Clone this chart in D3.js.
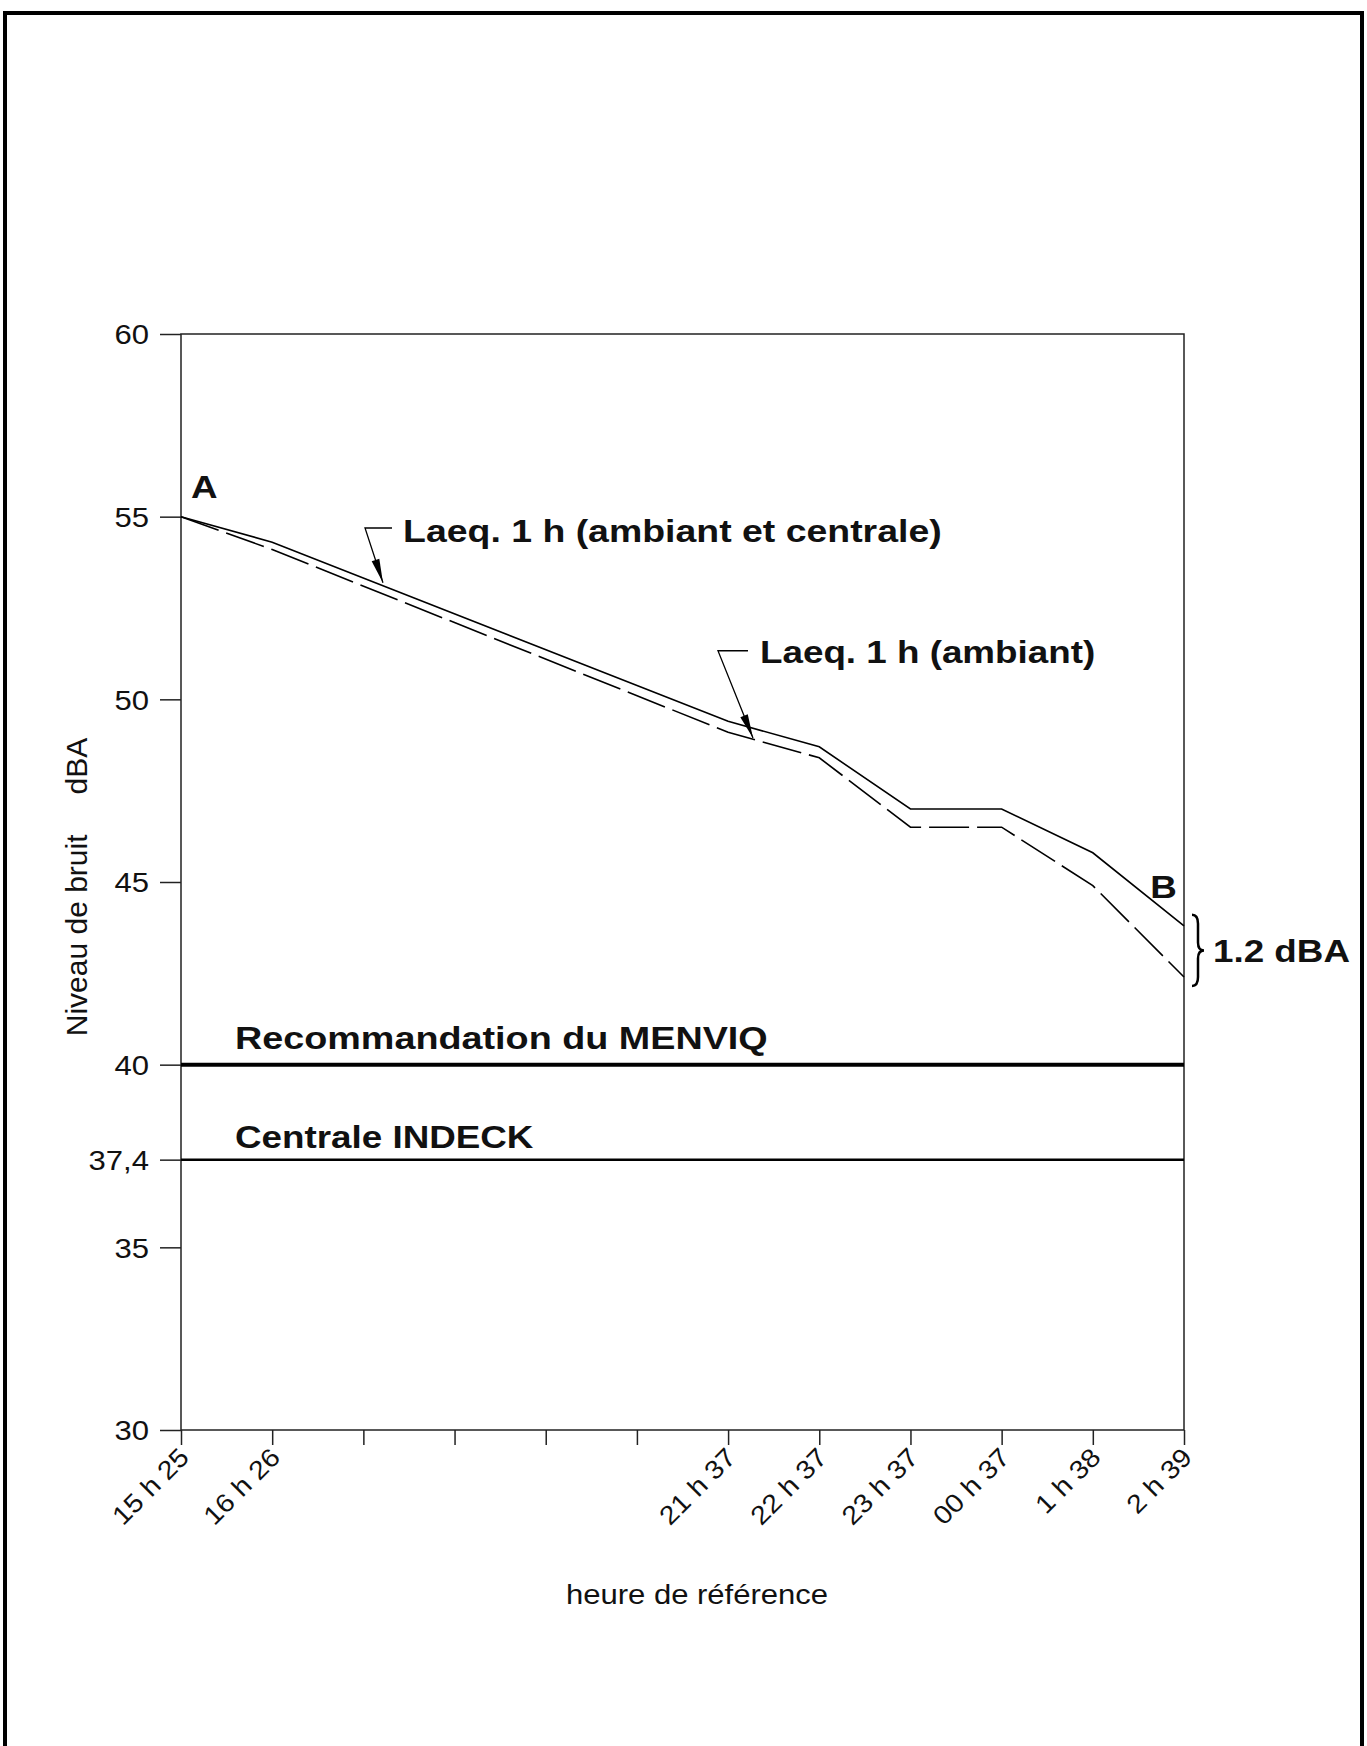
<!DOCTYPE html>
<html lang="fr">
<head>
<meta charset="UTF-8">
<title>Niveau de bruit</title>
<script src="https://d3js.org/d3.v7.min.js"></script>
<style>
  body { margin: 0; background: #fff; }
  svg { display: block; }
  text { font-family: "Liberation Sans", Arial, Helvetica, sans-serif; fill: #111; }
</style>
</head>
<body>
<svg id="canvas"></svg>
<script>
// heures de reference : 12 positions horaires, 4 sans etiquette
let heures = ['15h25', '16h26', '17h', '18h', '19h', '20h', '21h37', '22h37', '23h37', '00h37', '1h38', '2h39']
let heureLabels = ['15 h 25', '16 h 26', '', '', '', '', '21 h 37', '22 h 37', '23 h 37', '00 h 37', '1 h 38', '2 h 39']

// Laeq 1 h (ambiant et centrale) -> trait plein
let laeqTotal = [55.0, 54.3, null, null, null, null, 49.4, 48.7, 47.0, 47.0, 45.8, 43.8]
// Laeq 1 h (ambiant) -> tirets
let laeqAmbiant = [55.0, 54.1, null, null, null, null, 49.1, 48.4, 46.5, 46.5, 44.9, 42.4]

let yTicks = [30, 35, 37.4, 40, 45, 50, 55, 60]
let yTickLabels = ['30', '35', '37,4', '40', '45', '50', '55', '60']

let menviq = 40      // Recommandation du MENVIQ
let indeck = 37.4    // Centrale INDECK
let ecart = '1.2 dBA'

let width = 1367
let height = 1746
let padLeft = 181, padRight = 1184, padTop = 334, padBottom = 1430
let SX = 1.15   // le scan est un peu etire en largeur

let canvas = d3.select('#canvas')
canvas.attr('width', width).attr('height', height)

let xScale = d3.scalePoint().domain(heures).range([padLeft, padRight])
let yScale = d3.scaleLinear().domain([30, 60]).range([padBottom, padTop])
// position fractionnaire entre deux heures (pour les annotations)
let xAt = (f) => xScale(heures[0]) + f * xScale.step()

let label = (x, y, s, o) => {
    o = o || {}
    return canvas.append('text')
        .attr('transform', `translate(${x},${y}) rotate(${o.rot || 0}) scale(${o.sx || SX},1)`)
        .attr('text-anchor', o.anchor || 'start')
        .style('font-size', (o.size || 32) + 'px')
        .style('font-weight', o.bold ? 'bold' : 'normal')
        .text(s)
}

// cadre exterieur
canvas.append('path')
    .attr('d', 'M5,' + height + ' V13 H1362 V' + height)
    .attr('fill', 'none').attr('stroke', '#000').attr('stroke-width', 4)

// cadre du graphique
canvas.append('rect')
    .attr('x', padLeft).attr('y', padTop)
    .attr('width', padRight - padLeft).attr('height', padBottom - padTop)
    .attr('fill', 'none').attr('stroke', '#222').attr('stroke-width', 1.5)

// axe y
let yAxis = d3.axisLeft(yScale)
    .tickValues(yTicks)
    .tickSize(21)
    .tickFormat((d) => yTickLabels[yTicks.indexOf(d)])
let gy = canvas.append('g')
    .attr('transform', 'translate(' + padLeft + ',0)')
    .call(yAxis)
gy.select('.domain').remove()
gy.selectAll('line').attr('stroke', '#222').attr('stroke-width', 1.5)
gy.selectAll('text')
    .attr('x', null).attr('dy', '0.36em')
    .attr('transform', 'translate(-32,0) scale(' + SX + ',1)')
    .style('font-size', '27px').attr('fill', '#111')

// axe x
let xAxis = d3.axisBottom(xScale)
    .tickSize(15)
    .tickFormat((d) => heureLabels[heures.indexOf(d)])
let gx = canvas.append('g')
    .attr('transform', 'translate(0,' + padBottom + ')')
    .call(xAxis)
gx.select('.domain').remove()
gx.selectAll('line').attr('stroke', '#222').attr('stroke-width', 1.5)
gx.selectAll('text')
    .attr('y', null).attr('dy', null)
    .attr('text-anchor', 'end')
    .attr('transform', 'translate(9,29) rotate(-45) scale(1.1,1)')
    .style('font-size', '26px').attr('fill', '#111')

// lignes de reference
canvas.append('line')
    .attr('x1', padLeft).attr('x2', padRight)
    .attr('y1', yScale(menviq)).attr('y2', yScale(menviq))
    .attr('stroke', '#000').attr('stroke-width', 4)
canvas.append('line')
    .attr('x1', padLeft).attr('x2', padRight)
    .attr('y1', yScale(indeck)).attr('y2', yScale(indeck))
    .attr('stroke', '#000').attr('stroke-width', 2.5)

// courbes
let line = d3.line()
    .x((d) => xScale(d.h))
    .y((d) => yScale(d.v))
let serie = (vals) => heures.map((h, i) => ({ h: h, v: vals[i] })).filter((d) => d.v != null)

canvas.append('path')
    .datum(serie(laeqTotal))
    .attr('d', line)
    .attr('fill', 'none').attr('stroke', '#000').attr('stroke-width', 1.6)
canvas.append('path')
    .datum(serie(laeqAmbiant))
    .attr('d', line)
    .attr('fill', 'none').attr('stroke', '#000').attr('stroke-width', 1.6)
    .attr('stroke-dasharray', '40,8')

// fleches des etiquettes
let arrow = (pts) => {
    let p = pts.map((d) => [xAt(d[0]), yScale(d[1])])
    canvas.append('path')
        .attr('d', d3.line()(p))
        .attr('fill', 'none').attr('stroke', '#000').attr('stroke-width', 1.3)
    let a = p[p.length - 2], b = p[p.length - 1]
    let ang = Math.atan2(b[1] - a[1], b[0] - a[0])
    let L = 24, W = 4
    let bx = b[0] - L * Math.cos(ang), by = b[1] - L * Math.sin(ang)
    canvas.append('polygon')
        .attr('points', [
            [b[0], b[1]],
            [bx + W * Math.sin(ang), by - W * Math.cos(ang)],
            [bx - W * Math.sin(ang), by + W * Math.cos(ang)]
        ].map((q) => q.join(',')).join(' '))
        .attr('fill', '#000')
}
arrow([[2.314, 54.69], [2.018, 54.69], [2.215, 53.19]])
arrow([[6.218, 51.33], [5.889, 51.33], [6.273, 48.94]])

// textes
label(xAt(0.11), yScale(55.51), 'A', { bold: true })
label(xAt(2.435), yScale(54.31), 'Laeq. 1 h (ambiant et centrale)', { bold: true, sx: 1.17 })
label(xAt(6.35), yScale(51.0), 'Laeq. 1 h (ambiant)', { bold: true })
label(xAt(10.63), yScale(44.56), 'B', { bold: true })
label(235, yScale(menviq) - 16, 'Recommandation du MENVIQ', { bold: true, sx: 1.18 })
label(235, yScale(indeck) - 12, 'Centrale INDECK', { bold: true })

// accolade de l'ecart final
let yT = yScale(laeqTotal[11]) - 11
let yB = yScale(laeqAmbiant[11]) + 9
let yM = (yT + yB) / 2
let xL = padRight + 8, w = 12
canvas.append('path')
    .attr('d', `M${xL},${yT} Q${xL + w / 2},${yT} ${xL + w / 2},${yT + 9} L${xL + w / 2},${yM - 8} Q${xL + w / 2},${yM} ${xL + w},${yM} Q${xL + w / 2},${yM} ${xL + w / 2},${yM + 8} L${xL + w / 2},${yB - 9} Q${xL + w / 2},${yB} ${xL},${yB}`)
    .attr('fill', 'none').attr('stroke', '#000').attr('stroke-width', 2.5)
label(padRight + 29, yM + 12, ecart, { bold: true })

// titres des axes
canvas.append('text')
    .attr('transform', 'translate(87,887) rotate(-90)')
    .attr('text-anchor', 'middle')
    .style('font-size', '30px')
    .text('Niveau de bruit')
    .append('tspan').attr('dx', 40).text('dBA')

label(697, 1604, 'heure de référence', { size: 27, anchor: 'middle' })
</script>
</body>
</html>
